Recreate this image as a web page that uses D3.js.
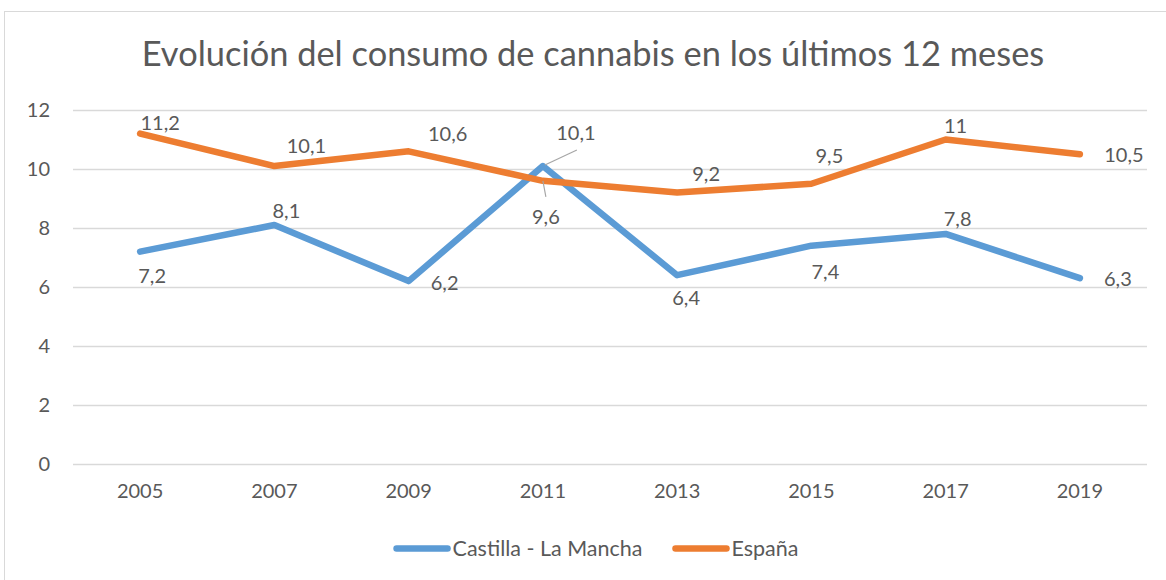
<!DOCTYPE html>
<html>
<head>
<meta charset="utf-8">
<script src="https://cdn.jsdelivr.net/npm/d3@7"></script>
<style>
  body { margin: 0; background: #fff; }
  text { font-family: Lato, "Open Sans", sans-serif; fill: #595959; }
</style>
</head>
<body>
<div id="chart-area"></div>
<script>
const years = ['2005', '2007', '2009', '2011', '2013', '2015', '2017', '2019'];
const castilla = [7.2, 8.1, 6.2, 10.1, 6.4, 7.4, 7.8, 6.3];
const espana = [11.2, 10.1, 10.6, 9.6, 9.2, 9.5, 11, 10.5];
const yTicks = [0, 2, 4, 6, 8, 10, 12];
const seriesNames = ['Castilla - La Mancha', 'España'];

// label offsets from each point [dx, dy to baseline]
const castillaLabelPos = [[12, 31], [12, -7], [36, 9], [33, -26], [9, 30], [14, 33], [12, -8], [38, 8]];
const espanaLabelPos = [[20, -4], [32, -13], [39, -10], [3, 43], [29, -12], [18, -21], [10, -7], [44, 8]];

const W = 1166, H = 580;
const margin = {left: 73, right: 19, top: 110, bottom: 116};
const width = W - margin.left - margin.right,
    height = H - margin.top - margin.bottom;
const colors = ['#5b9bd5', '#ed7d31'];

const svg = d3.select('#chart-area')
    .append('svg')
    .attr('width', W)
    .attr('height', H);

// outer chart border
svg.append('rect')
    .attr('x', 4.5).attr('y', 11.5)
    .attr('width', W + 10).attr('height', H + 10)
    .attr('fill', 'none')
    .attr('stroke', '#d9d9d9');

const title = svg.append('text')
    .text('Evolución del consumo de cannabis en los últimos 12 meses')
    .attr('x', 593)
    .attr('y', 66)
    .attr('text-anchor', 'middle')
    .attr('font-size', '30px');
// fit to the reference width
const tw = title.node().getComputedTextLength();
title.attr('font-size', (30 * 903 / tw) + 'px');

const g = svg.append('g')
    .attr('transform', 'translate(' + margin.left + ', ' + margin.top + ')');

const xScale = d3.scaleBand()
    .domain(years)
    .range([0, width]);

const xPos = d => xScale(d) + xScale.bandwidth() / 2;

const yScale = d3.scaleLinear()
    .domain([0, 12])
    .range([height, 0]);

// gridlines + y labels
const yAxisCall = d3.axisLeft(yScale)
    .tickValues(yTicks)
    .tickSize(-width)
    .tickPadding(23)
    .tickFormat(d => d);

const yAxis = g.append('g').call(yAxisCall);
yAxis.select('.domain').remove();
yAxis.selectAll('line').attr('stroke', '#d9d9d9').attr('stroke-width', 1.3);
yAxis.selectAll('text')
    .attr('font-size', '20px')
    .attr('font-family', 'Lato, sans-serif')
    .attr('fill', '#595959');

const xAxisCall = d3.axisBottom(xScale).tickSize(0).tickPadding(20);
const xAxis = g.append('g')
    .attr('transform', 'translate(0, ' + height + ')')
    .call(xAxisCall);
xAxis.select('.domain').remove();
xAxis.selectAll('text')
    .attr('font-size', '20px')
    .attr('font-family', 'Lato, sans-serif')
    .attr('fill', '#595959');

const line = d3.line()
    .x((d, i) => xPos(years[i]))
    .y(d => yScale(d));

const allSeries = [castilla, espana];
const allLabelPos = [castillaLabelPos, espanaLabelPos];

allSeries.forEach((values, s) => {
    g.append('path')
        .datum(values)
        .attr('d', line)
        .attr('fill', 'none')
        .attr('stroke', colors[s])
        .attr('stroke-width', 6.5)
        .attr('stroke-linecap', 'round')
        .attr('stroke-linejoin', 'round');
});

// leader lines for the 2011 labels
const leaders = [
    {s: 0, i: 3, dx1: 2, dy1: -1, dx2: 34, dy2: -16},
    {s: 1, i: 3, dx1: 0, dy1: 0, dx2: 3, dy2: 16}
];
leaders.forEach(l => {
    const px = xPos(years[l.i]), py = yScale(allSeries[l.s][l.i]);
    g.append('line')
        .attr('x1', px + l.dx1).attr('y1', py + l.dy1)
        .attr('x2', px + l.dx2).attr('y2', py + l.dy2)
        .attr('stroke', '#a6a6a6')
        .attr('stroke-width', 1.2);
});

allSeries.forEach((values, s) => {
    g.append('g').selectAll('text')
        .data(values)
        .enter()
        .append('text')
        .attr('x', (d, i) => xPos(years[i]) + allLabelPos[s][i][0])
        .attr('y', (d, i) => yScale(d) + allLabelPos[s][i][1])
        .attr('text-anchor', 'middle')
        .attr('font-size', '20px')
        .text(d => String(d).replace('.', ','));
});

// legend
const legend = svg.append('g');
const legendY = 548.5;
let lx = 0;
seriesNames.forEach((name, s) => {
    const it = legend.append('g');
    it.append('line')
        .attr('x1', lx + 3).attr('x2', lx + 54)
        .attr('y1', legendY).attr('y2', legendY)
        .attr('stroke', colors[s])
        .attr('stroke-width', 6.5)
        .attr('stroke-linecap', 'round');
    const t = it.append('text')
        .attr('x', lx + 59)
        .attr('y', legendY + 7.5)
        .attr('font-size', '21.5px')
        .text(name);
    lx += 59 + t.node().getComputedTextLength() + 30;
});
const legendW = lx - 30;
legend.attr('transform', 'translate(' + (596 - legendW / 2) + ', 0)');
</script>
</body>
</html>
